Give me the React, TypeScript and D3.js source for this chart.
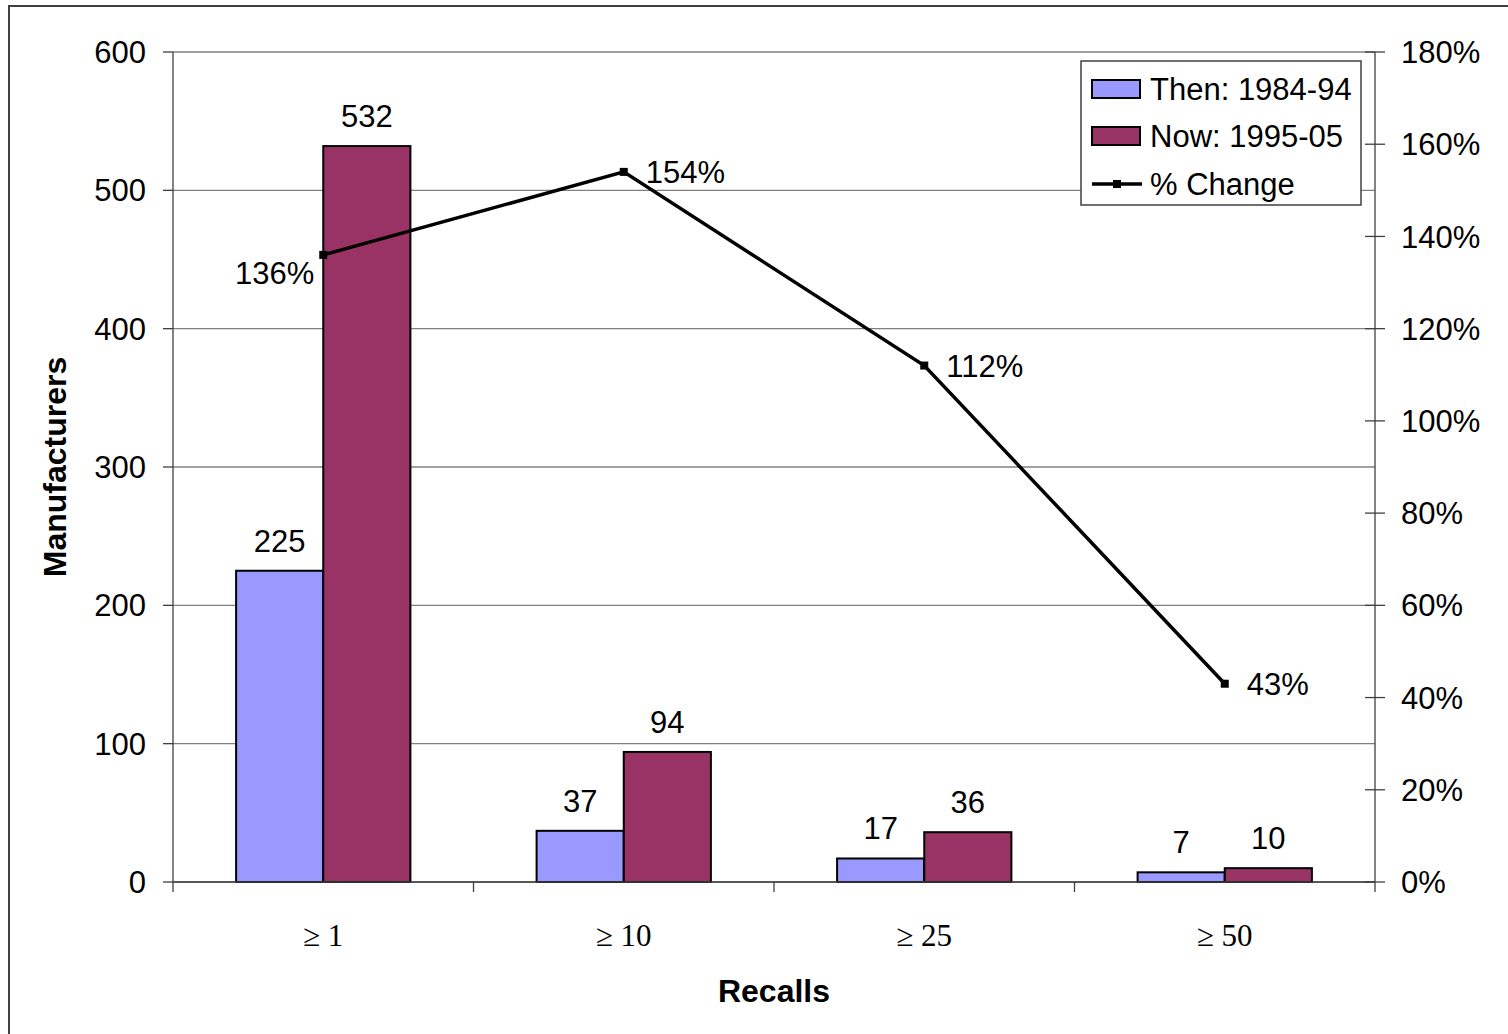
import React from "react";
import * as d3 from "d3";

const categories = ["≥ 1", "≥ 10", "≥ 25", "≥ 50"];
const thenValues = [225, 37, 17, 7];
const nowValues = [532, 94, 36, 10];
const pctChange = [136, 154, 112, 43];
const leftTicks = [0, 100, 200, 300, 400, 500, 600];
const rightTicks = [0, 20, 40, 60, 80, 100, 120, 140, 160, 180];
const seriesNames = ["Then: 1984-94", "Now: 1995-05", "% Change"];

const W = 1508;
const H = 1034;
const plot = { left: 173, right: 1375, top: 52, bottom: 882 };
const BLUE = "#9999FF";
const MAROON = "#993366";
const FONT = "Liberation Sans, Arial, sans-serif";
const FS = 31;

export default function App() {
  const x = d3
    .scaleBand<string>()
    .domain(categories)
    .range([plot.left, plot.right])
    .paddingInner(0)
    .paddingOuter(0);
  const y = d3.scaleLinear().domain([0, 600]).range([plot.bottom, plot.top]);
  const y2 = d3.scaleLinear().domain([0, 180]).range([plot.bottom, plot.top]);
  const bw = x.bandwidth();
  const barW = bw * 0.29;
  const cx = (c: string) => (x(c) as number) + bw / 2;

  const line = d3
    .line<number>()
    .x((_, i) => cx(categories[i]))
    .y((d) => y2(d));

  return (
    <svg
      width={W}
      height={H}
      style={{ position: "absolute", left: 0, top: 0, background: "#fff" }}
      fontFamily={FONT}
    >
      <rect x={0} y={0} width={W} height={H} fill="#fff" />
      <rect x={9} y={6} width={W + 20} height={H + 20} fill="none" stroke="#404040" strokeWidth={2} />

      {/* gridlines */}
      {leftTicks.map((t) => (
        <line key={"g" + t} x1={plot.left} x2={plot.right} y1={y(t)} y2={y(t)} stroke="#808080" strokeWidth={1.3} />
      ))}
      {/* left axis */}
      <line x1={plot.left} x2={plot.left} y1={plot.top} y2={plot.bottom} stroke="#404040" strokeWidth={1.3} />
      {leftTicks.map((t) => (
        <g key={"lt" + t}>
          <line x1={plot.left - 10} x2={plot.left} y1={y(t)} y2={y(t)} stroke="#404040" strokeWidth={1.3} />
          <text x={146} y={y(t)} dy="0.36em" textAnchor="end" fontSize={FS} fill="#000">
            {t}
          </text>
        </g>
      ))}
      {/* right axis */}
      <line x1={plot.right} x2={plot.right} y1={plot.top} y2={plot.bottom} stroke="#404040" strokeWidth={1.3} />
      {rightTicks.map((t) => (
        <g key={"rt" + t}>
          <line x1={plot.right - 10} x2={plot.right + 10} y1={y2(t)} y2={y2(t)} stroke="#404040" strokeWidth={1.3} />
          <text x={1401} y={y2(t)} dy="0.36em" textAnchor="start" fontSize={FS} fill="#000">
            {t + "%"}
          </text>
        </g>
      ))}

      {/* bars */}
      {categories.map((c, i) => {
        const mid = cx(c);
        return (
          <g key={"b" + c}>
            <rect x={mid - barW} y={y(thenValues[i])} width={barW} height={plot.bottom - y(thenValues[i])} fill={BLUE} stroke="#000" strokeWidth={2} />
            <rect x={mid} y={y(nowValues[i])} width={barW} height={plot.bottom - y(nowValues[i])} fill={MAROON} stroke="#000" strokeWidth={2} />
            <text x={mid - barW / 2} y={y(thenValues[i]) - 19} textAnchor="middle" fontSize={FS} fill="#000">
              {thenValues[i]}
            </text>
            <text x={mid + barW / 2} y={y(nowValues[i]) - 19} textAnchor="middle" fontSize={FS} fill="#000">
              {nowValues[i]}
            </text>
          </g>
        );
      })}

      {/* x axis */}
      <line x1={plot.left} x2={plot.right} y1={plot.bottom} y2={plot.bottom} stroke="#404040" strokeWidth={1.3} />
      {categories.concat(["__end"]).map((c, i) => {
        const xx = i < categories.length ? (x(c) as number) : plot.right;
        return <line key={"xt" + i} x1={xx} x2={xx} y1={plot.bottom} y2={plot.bottom + 10} stroke="#404040" strokeWidth={1.3} />;
      })}
      {categories.map((c) => (
        <text key={"xl" + c} x={cx(c)} y={935} dy="0.36em" textAnchor="middle" fontSize={FS} fontFamily="Liberation Serif, Times New Roman, serif" fill="#000">
          {c}
        </text>
      ))}

      {/* line series */}
      <path d={line(pctChange) || ""} fill="none" stroke="#000" strokeWidth={3.5} />
      {pctChange.map((v, i) => {
        const px = cx(categories[i]);
        const py = y2(v);
        return (
          <g key={"p" + i}>
            <rect x={px - 4} y={py - 4} width={8} height={8} fill="#000" />
            {i === 0 ? (
              <text x={px - 9} y={py + 18} dy="0.36em" textAnchor="end" fontSize={FS} fill="#000">
                {v + "%"}
              </text>
            ) : (
              <text x={px + 22} y={py} dy="0.36em" textAnchor="start" fontSize={FS} fill="#000">
                {v + "%"}
              </text>
            )}
          </g>
        );
      })}

      {/* axis titles */}
      <text x={0} y={0} transform="translate(66,467) rotate(-90)" textAnchor="middle" fontSize={32} fontWeight="bold" fill="#000">
        Manufacturers
      </text>
      <text x={774} y={990} dy="0.36em" textAnchor="middle" fontSize={32} fontWeight="bold" fill="#000">
        Recalls
      </text>

      {/* legend */}
      <g>
        <rect x={1081} y={61} width={280} height={144} fill="#fff" stroke="#404040" strokeWidth={1.5} />
        <rect x={1092} y={80} width={48} height={18} fill={BLUE} stroke="#000" strokeWidth={2} />
        <text x={1150} y={89} dy="0.36em" fontSize={FS} fill="#000">{seriesNames[0]}</text>
        <rect x={1092} y={127} width={48} height={18} fill={MAROON} stroke="#000" strokeWidth={2} />
        <text x={1150} y={136} dy="0.36em" fontSize={FS} fill="#000">{seriesNames[1]}</text>
        <line x1={1092} x2={1142} y1={184} y2={184} stroke="#000" strokeWidth={3.5} />
        <rect x={1113} y={180} width={8} height={8} fill="#000" />
        <text x={1150} y={184} dy="0.36em" fontSize={FS} fill="#000">{seriesNames[2]}</text>
      </g>
    </svg>
  );
}
